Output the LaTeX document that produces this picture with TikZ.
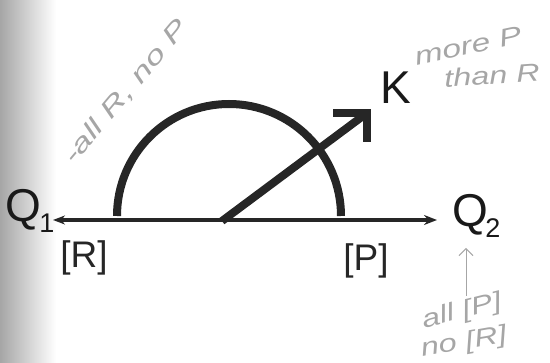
\documentclass[tikz,border=0pt]{standalone}
\usepackage{fontspec}
\setmainfont{Liberation Sans}
\usetikzlibrary{arrows.meta}
\tikzset{
  axisline/.style={line width=3.5pt, black!85},
  thickarc/.style={line width=8pt, black!85},
  vecline/.style={line width=8pt, black!85, miter limit=10},
  biglabel/.style={font=\fontsize{46}{50}\selectfont, black!90, inner sep=0pt},
  sublabel/.style={font=\fontsize{27}{30}\selectfont, black!90, inner sep=0pt},
  brlabel/.style={font=\fontsize{37}{40}\selectfont, black!85, inner sep=0pt},
  hand/.style={font=\fontsize{25}{27}\selectfont\itshape, gray!70, inner sep=0pt},
}
\begin{document}
\begin{tikzpicture}[x=1pt,y=-1pt]
\useasboundingbox (0,0) rectangle (550,363);
\shade[left color=gray!70, right color=white] (0,0) rectangle (56,363);
% axis
\coordinate (L) at (53,220);
\coordinate (R) at (437,220);
\draw[axisline, {Stealth[length=12pt,width=9pt]}-{Stealth[length=13pt,width=10pt]}] (L) -- (R);
% labels
\node[biglabel] (Q1) at (23,210) {Q};
\node[sublabel] (s1) at (47,223) {1};
\node[biglabel] (Q2) at (470,215) {Q};
\node[sublabel] (s2) at (493,228) {2};
\node[brlabel] (Rb) at (84,258) {[R]};
\node[brlabel] (Pb) at (366,261) {[P]};
\node[biglabel] (K) at (396,88) {K};
% semicircle
\draw[thickarc] (117,216) arc[start angle=180, end angle=360, radius=112];
% vector
\coordinate (A) at (222,221);
\coordinate (T) at (367,113);
\draw[vecline] (A) -- (T);
\draw[vecline] (333,113) -- (T) -- (367,142);
% handwritten notes
\node[hand, rotate=50, xscale=1.45] (n1) at (126,92) {-all R, no P};
\node[hand, rotate=12, xscale=1.35] (n2) at (468,46) {more P};
\node[hand, rotate=4, xscale=1.3] (n3) at (492,75) {than R};
\coordinate (u1) at (466,296);
\coordinate (u2) at (466,248);
\draw[gray!70, line width=1pt, -{Straight Barb[length=7pt]}] (u1) -- (u2);
\node[hand, rotate=14, xscale=1.3] (n4) at (462,312) {all [P]};
\node[hand, rotate=10, xscale=1.3] (n5) at (464,343) {no [R]};
\end{tikzpicture}
\end{document}
